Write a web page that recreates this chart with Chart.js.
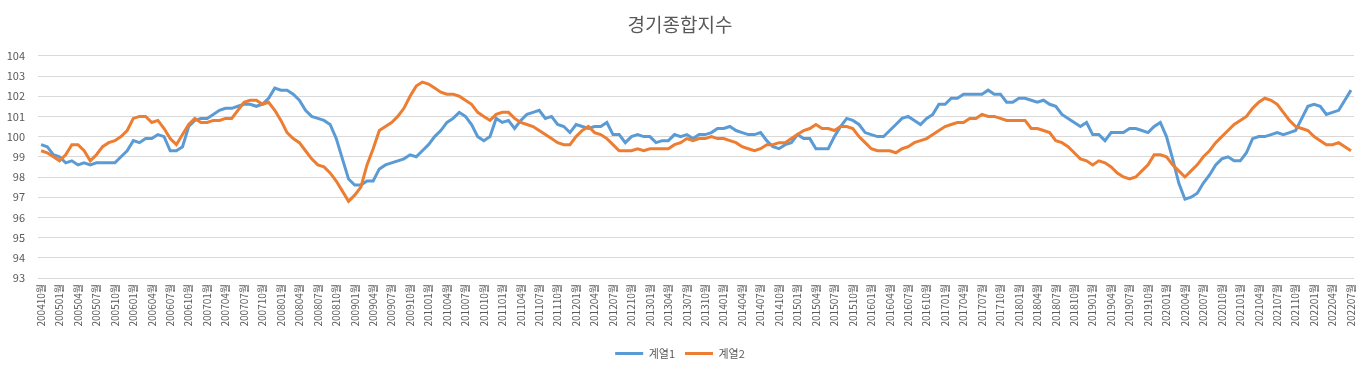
<!DOCTYPE html>
<html>
<head>
<meta charset="utf-8">
<script src="https://cdn.jsdelivr.net/npm/chart.js@4/dist/chart.umd.min.js"></script>
<style>
    html, body { margin: 0; padding: 0; background: #fff; }
    #wrap { width: 1369px; height: 369px; position: relative; }
</style>
</head>
<body>
<div id="wrap"><canvas id="myChart"></canvas></div>
<script>
// monthly, 2004-10 .. 2022-07
const startYear = 2004;
const startMonth = 10;
const monthCount = 214;

const series1 = [
    99.6, 99.5, 99.1, 99.0, 98.7, 98.8, 98.6, 98.7, 98.6, 98.7,
    98.7, 98.7, 98.7, 99.0, 99.3, 99.8, 99.7, 99.9, 99.9, 100.1,
    100.0, 99.3, 99.3, 99.5, 100.5, 100.8, 100.9, 100.9, 101.1, 101.3,
    101.4, 101.4, 101.5, 101.6, 101.6, 101.5, 101.6, 101.9, 102.4, 102.3,
    102.3, 102.1, 101.8, 101.3, 101.0, 100.9, 100.8, 100.6, 99.9, 98.9,
    97.9, 97.6, 97.6, 97.8, 97.8, 98.4, 98.6, 98.7, 98.8, 98.9,
    99.1, 99.0, 99.3, 99.6, 100.0, 100.3, 100.7, 100.9, 101.2, 101.0,
    100.6, 100.0, 99.8, 100.0, 100.9, 100.7, 100.8, 100.4, 100.8, 101.1,
    101.2, 101.3, 100.9, 101.0, 100.6, 100.5, 100.2, 100.6, 100.5, 100.4,
    100.5, 100.5, 100.7, 100.1, 100.1, 99.7, 100.0, 100.1, 100.0, 100.0,
    99.7, 99.8, 99.8, 100.1, 100.0, 100.1, 99.9, 100.1, 100.1, 100.2,
    100.4, 100.4, 100.5, 100.3, 100.2, 100.1, 100.1, 100.2, 99.8, 99.5,
    99.4, 99.6, 99.7, 100.1, 99.9, 99.9, 99.4, 99.4, 99.4, 100.0,
    100.5, 100.9, 100.8, 100.6, 100.2, 100.1, 100.0, 100.0, 100.3, 100.6,
    100.9, 101.0, 100.8, 100.6, 100.9, 101.1, 101.6, 101.6, 101.9, 101.9,
    102.1, 102.1, 102.1, 102.1, 102.3, 102.1, 102.1, 101.7, 101.7, 101.9,
    101.9, 101.8, 101.7, 101.8, 101.6, 101.5, 101.1, 100.9, 100.7, 100.5,
    100.7, 100.1, 100.1, 99.8, 100.2, 100.2, 100.2, 100.4, 100.4, 100.3,
    100.2, 100.5, 100.7, 100.0, 98.9, 97.7, 96.9, 97.0, 97.2, 97.7,
    98.1, 98.6, 98.9, 99.0, 98.8, 98.8, 99.2, 99.9, 100.0, 100.0,
    100.1, 100.2, 100.1, 100.2, 100.3, 100.9, 101.5, 101.6, 101.5, 101.1,
    101.2, 101.3, 101.8, 102.3
];

const series2 = [
    99.3, 99.2, 99.0, 98.8, 99.1, 99.6, 99.6, 99.3, 98.8, 99.1,
    99.5, 99.7, 99.8, 100.0, 100.3, 100.9, 101.0, 101.0, 100.7, 100.8,
    100.4, 99.9, 99.6, 100.1, 100.6, 100.9, 100.7, 100.7, 100.8, 100.8,
    100.9, 100.9, 101.3, 101.7, 101.8, 101.8, 101.6, 101.7, 101.3, 100.8,
    100.2, 99.9, 99.7, 99.3, 98.9, 98.6, 98.5, 98.2, 97.8, 97.3,
    96.8, 97.1, 97.5, 98.6, 99.4, 100.3, 100.5, 100.7, 101.0, 101.4,
    102.0, 102.5, 102.7, 102.6, 102.4, 102.2, 102.1, 102.1, 102.0, 101.8,
    101.6, 101.2, 101.0, 100.8, 101.1, 101.2, 101.2, 100.9, 100.7, 100.6,
    100.5, 100.3, 100.1, 99.9, 99.7, 99.6, 99.6, 100.0, 100.3, 100.5,
    100.2, 100.1, 99.9, 99.6, 99.3, 99.3, 99.3, 99.4, 99.3, 99.4,
    99.4, 99.4, 99.4, 99.6, 99.7, 99.9, 99.8, 99.9, 99.9, 100.0,
    99.9, 99.9, 99.8, 99.7, 99.5, 99.4, 99.3, 99.4, 99.6, 99.6,
    99.7, 99.7, 99.9, 100.1, 100.3, 100.4, 100.6, 100.4, 100.4, 100.3,
    100.5, 100.5, 100.4, 100.0, 99.7, 99.4, 99.3, 99.3, 99.3, 99.2,
    99.4, 99.5, 99.7, 99.8, 99.9, 100.1, 100.3, 100.5, 100.6, 100.7,
    100.7, 100.9, 100.9, 101.1, 101.0, 101.0, 100.9, 100.8, 100.8, 100.8,
    100.8, 100.4, 100.4, 100.3, 100.2, 99.8, 99.7, 99.5, 99.2, 98.9,
    98.8, 98.6, 98.8, 98.7, 98.5, 98.2, 98.0, 97.9, 98.0, 98.3,
    98.6, 99.1, 99.1, 99.0, 98.6, 98.3, 98.0, 98.3, 98.6, 99.0,
    99.3, 99.7, 100.0, 100.3, 100.6, 100.8, 101.0, 101.4, 101.7, 101.9,
    101.8, 101.6, 101.2, 100.8, 100.5, 100.4, 100.3, 100.0, 99.8, 99.6,
    99.6, 99.7, 99.5, 99.3
];

const seriesNames = ['계열1', '계열2'];
const seriesColors = ['#5B9BD5', '#ED7D31'];
const chartTitle = '경기종합지수';

// category labels like "200410월"
const categories = [];
for (let k = 0; k < monthCount; k++) {
    const m = startMonth - 1 + k;
    const y = startYear + Math.floor(m / 12);
    const mm = (m % 12) + 1;
    categories.push(y + (mm < 10 ? '0' : '') + mm + '월');
}

const textColor = '#595959';
const fontFamily = "'Noto Sans CJK KR', 'Noto Sans', sans-serif";

const data = {
    labels: categories,
    datasets: [{
        label: seriesNames[0],
        data: series1,
        borderColor: seriesColors[0],
        backgroundColor: seriesColors[0],
        borderWidth: 3,
        pointRadius: 0,
        tension: 0,
        order: 1
    }, {
        label: seriesNames[1],
        data: series2,
        borderColor: seriesColors[1],
        backgroundColor: seriesColors[1],
        borderWidth: 3,
        pointRadius: 0,
        tension: 0,
        order: 0
    }]
};

const scales = {
    x: {
        offset: true,
        grid: {
            display: false,
            drawTicks: false
        },
        border: {
            display: false
        },
        ticks: {
            autoSkip: false,
            maxRotation: 90,
            minRotation: 90,
            padding: 6,
            color: textColor,
            font: { family: fontFamily, size: 10 },
            callback: function (value, index) {
                return index % 3 === 0 ? this.getLabelForValue(value) : '';
            }
        },
        afterFit: function (scale) {
            scale.height = 60;
        }
    },
    y: {
        min: 93,
        max: 104,
        ticks: {
            stepSize: 1,
            padding: 13,
            color: textColor,
            font: { family: fontFamily, size: 11 }
        },
        grid: {
            color: '#D9D9D9',
            lineWidth: 1,
            drawTicks: false
        },
        border: {
            display: false
        },
        afterFit: function (scale) {
            scale.width = 38;
        }
    }
};

const config = {
    type: 'line',
    data,
    options: {
        responsive: true,
        maintainAspectRatio: false,
        animation: false,
        layout: {
            padding: { left: 0, right: 9, top: 0, bottom: 0 }
        },
        scales: scales,
        plugins: {
            title: {
                display: true,
                text: chartTitle,
                color: textColor,
                font: { family: fontFamily, size: 19, weight: 'normal' },
                padding: { top: 13, bottom: 20 }
            },
            legend: {
                position: 'bottom',
                labels: {
                    usePointStyle: true,
                    pointStyle: 'line',
                    pointStyleWidth: 28,
                    color: textColor,
                    padding: 10,
                    font: { family: fontFamily, size: 11 },
                    sort: function (a, b) {
                        return a.datasetIndex - b.datasetIndex;
                    }
                }
            },
            tooltip: { enabled: false }
        }
    }
};

new Chart(document.getElementById('myChart'), config);
</script>
</body>
</html>
